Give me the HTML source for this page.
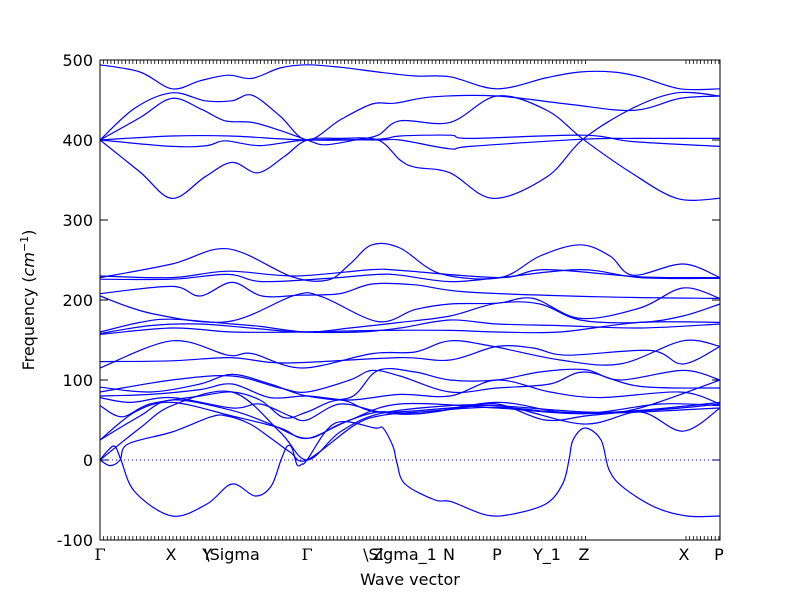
<!DOCTYPE html>
<html><head><meta charset="utf-8"><style>
body{margin:0;background:#fff;}
svg{display:block;font-family:"DejaVu Sans","Liberation Sans",sans-serif;}
</style></head><body>
<svg id="chart" width="800" height="600" viewBox="0 0 800 600" xmlns="http://www.w3.org/2000/svg">
<rect x="0" y="0" width="800" height="600" fill="#fff"/>
<g id="ticks"></g>
<g id="bands"></g>
<rect x="100" y="60" width="620" height="480" fill="none" stroke="#000" stroke-width="1"/>
<g id="labels"></g>
<text x="410" y="585" font-size="16" text-anchor="middle">Wave vector</text>
<text transform="translate(34,300) rotate(-90)" font-size="16" text-anchor="middle">Frequency (<tspan font-style="italic">cm</tspan><tspan font-size="11" dy="-6">−1</tspan><tspan dy="6">)</tspan></text>
</svg>
<script>
// path distance (0..620 units) of high-symmetry points
const symLabels = ["Γ","X","Y","\\Sigma","Γ","Z","\\Sigma_1","N","P","Y_1","Z","X","P"];
const symPos = [0,71,107,132,207,278,300,349,397,447,484,584,619];
const yTicks = [-100,0,100,200,300,400,500];
// each band: [k, frequency] samples
const band01=[[0,494],[40,485],[72,464],[100,474],[128,481],[152,477],[180,490],[207,494],[240,491],[278,485],[315,480],[350,479],[397,464],[447,478],[480,485],[513,485],[540,479],[580,464],[620,464]];
const band02=[[0,400],[35,440],[72,459],[105,449],[132,449],[152,456],[180,430],[207,400],[240,425],[272,445],[295,446],[333,454],[397,455],[467,445],[533,437],[580,452],[620,455]];
const band03=[[0,400],[40,428],[72,452],[102,438],[125,424],[152,422],[180,412],[207,400],[225,394],[255,400],[278,406],[300,424],[350,422],[397,455],[447,437],[483,401],[530,360],[577,327],[620,327]];
const band04=[[0,400],[40,360],[72,327],[105,354],[132,372],[158,359],[185,380],[207,400],[240,402],[278,400],[300,375],[315,366],[350,359],[393,327],[447,354],[483,401],[533,440],[577,459],[620,455]];
const band05=[[0,400],[72,405],[130,405],[207,400],[278,401],[300,405],[350,406],[370,402],[483,406],[533,398],[620,392]];
const band06=[[0,400],[72,392],[107,393],[125,399],[160,393],[207,400],[278,400],[300,400],[350,389],[370,392],[483,401],[533,402],[620,402]];
const band07=[[0,228],[72,245],[128,264],[192,229],[228,225],[250,245],[272,269],[300,265],[340,233],[400,228],[440,255],[480,269],[510,255],[533,231],[583,245],[620,228]];
const band08=[[0,230],[72,228],[128,236],[195,230],[272,238],[300,237],[400,228],[445,238],[540,229],[620,228]];
const band09=[[0,226],[72,226],[128,232],[162,223],[228,227],[278,232],[300,231],[350,223],[400,228],[480,238],[540,228],[620,227]];
const band10=[[0,208],[72,217],[100,205],[132,222],[162,205],[200,206],[240,208],[272,220],[315,219],[367,210],[500,204],[620,202]];
const band11=[[0,205],[52,183],[128,173],[195,206],[222,204],[278,173],[315,188],[350,195],[397,196],[433,202],[480,177],[540,190],[583,215],[620,202]];
const band12=[[0,160],[40,172],[72,176],[132,170],[160,167],[207,160],[250,165],[300,172],[350,180],[397,196],[440,195],[480,175],[540,172],[583,180],[620,195]];
const band13=[[0,158],[50,168],[100,170],[150,165],[200,160],[260,160],[300,165],[350,175],[397,170],[460,168],[540,165],[620,170]];
const band14=[[0,157],[72,165],[132,160],[200,160],[278,162],[350,162],[397,160],[460,160],[540,172],[620,172]];
const band15=[[0,115],[72,149],[128,131],[152,133],[202,115],[272,133],[315,135],[350,149],[393,142],[460,125],[520,120],[583,149],[620,142]];
const band16=[[0,123],[72,124],[130,128],[170,122],[207,122],[300,128],[350,125],[397,142],[433,140],[467,131],[550,137],[583,120],[620,142]];
const band17=[[0,91],[50,85],[100,95],[132,107],[170,95],[207,80],[250,78],[278,112],[315,110],[350,100],[397,100],[440,110],[485,113],[520,100],[583,112],[620,100]];
const band18=[[0,85],[72,100],[132,105],[180,90],[207,85],[250,100],[272,112],[300,105],[350,85],[397,90],[450,95],[485,110],[540,92],[620,90]];
const band19=[[0,80],[50,82],[100,88],[132,95],[170,78],[207,80],[250,75],[300,82],[350,80],[397,100],[450,85],[500,78],[580,85],[620,70]];
const band20=[[0,78],[30,72],[72,78],[132,65],[160,70],[190,55],[207,50],[240,70],[280,60],[320,58],[397,72],[460,60],[520,60],[580,65],[620,70]];
const band21=[[0,68],[22,54],[50,70],[100,80],[132,85],[160,75],[184,53],[207,60],[240,75],[278,60],[350,65],[397,70],[445,50],[485,55],[540,65],[620,100]];
const band22=[[0,25],[40,55],[72,75],[132,62],[170,45],[207,27],[240,45],[278,60],[320,58],[397,68],[483,45],[540,60],[583,36],[620,65]];
const band23=[[0,25],[35,60],[72,72],[132,55],[180,40],[207,27],[250,50],[300,70],[397,65],[483,58],[560,70],[620,68]];
const band24=[[0,0],[40,40],[72,68],[132,85],[180,35],[207,0],[240,35],[280,58],[350,68],[397,68],[485,60],[540,62],[620,72]];
const band25=[[0,0],[10,-7],[20,0],[28,20],[72,35],[111,54],[127,55],[150,45],[170,28],[190,10],[207,0],[255,44],[283,56],[320,60],[397,66],[485,58],[620,65]];
const band26=[[0,0],[8,12],[15,17],[21,0],[35,-40],[72,-70],[107,-55],[132,-30],[155,-45],[171,-33],[181,0],[187,17],[192,15],[197,-6],[202,-5],[207,0],[235,46],[275,40],[283,40],[293,17],[297,-4],[305,-30],[335,-50],[351,-52],[387,-69],[415,-67],[447,-54],[463,-29],[469,0],[473,25],[485,40],[501,25],[509,-12],[523,-34],[555,-59],[587,-70],[620,-70]];
const bands=[band01,band02,band03,band04,band05,band06,band07,band08,band09,band10,band11,band12,band13,band14,band15,band16,band17,band18,band19,band20,band21,band22,band23,band24,band25,band26];

const NS="http://www.w3.org/2000/svg";
const X0=100,X1=720,Y0=540,Y1=60,KMAX=620,FMIN=-100,FMAX=500;
function xs(k){return X0+(k/KMAX)*(X1-X0);}
function ys(f){return Y0-(f-FMIN)/(FMAX-FMIN)*(Y0-Y1);}
function pathFor(pts){
  const p=pts.map(d=>[xs(d[0]),ys(d[1])]);
  let s="M"+p[0][0].toFixed(2)+","+p[0][1].toFixed(2);
  for(let i=0;i<p.length-1;i++){
    const a=p[i-1]||p[i],b=p[i],c=p[i+1],d=p[i+2]||c;
    const c1x=b[0]+(c[0]-a[0])/6,c1y=b[1]+(c[1]-a[1])/6;
    const c2x=c[0]-(d[0]-b[0])/6,c2y=c[1]-(d[1]-b[1])/6;
    s+=" C"+c1x.toFixed(2)+","+c1y.toFixed(2)+" "+c2x.toFixed(2)+","+c2y.toFixed(2)+" "+c[0].toFixed(2)+","+c[1].toFixed(2);
  }
  return s;
}
const gB=document.getElementById("bands");
const zl=document.createElementNS(NS,"line");


zl.setAttribute("x1",X0);zl.setAttribute("x2",X1);zl.setAttribute("y1",ys(0));zl.setAttribute("y2",ys(0));
zl.setAttribute("stroke","#0000ff");zl.setAttribute("stroke-dasharray","1,3");zl.setAttribute("stroke-width","1");
gB.appendChild(zl);
bands.forEach((b,i)=>{
  const el=document.createElementNS(NS,"path");
  
  
  el.setAttribute("d",pathFor(b));
  el.setAttribute("fill","none");el.setAttribute("stroke","#0000ff");el.setAttribute("stroke-width","1.2");
  gB.appendChild(el);
});
const gT=document.getElementById("ticks"),gL=document.getElementById("labels");
yTicks.forEach(v=>{
  [[X0,X0+8],[X1,X1-8]].forEach(([a,b])=>{
    const t=document.createElementNS(NS,"line");
    
    
    t.setAttribute("x1",a);t.setAttribute("x2",b);t.setAttribute("y1",ys(v));t.setAttribute("y2",ys(v));t.setAttribute("stroke","#000");
    gT.appendChild(t);
  });
  const tx=document.createElementNS(NS,"text");
  
  
  tx.setAttribute("x",93);tx.setAttribute("y",ys(v)+6);tx.setAttribute("text-anchor","end");tx.setAttribute("font-size","16");
  tx.textContent=String(v);gL.appendChild(tx);
});
// minor ticks (q-points)
for(let x=X0;x<=588;x+=3.65){
  [[Y0,Y0-4],[Y1,Y1+4]].forEach(([a,b])=>{
    const t=document.createElementNS(NS,"line");
    
    
    t.setAttribute("x1",x);t.setAttribute("x2",x);t.setAttribute("y1",a);t.setAttribute("y2",b);t.setAttribute("stroke","#000");t.setAttribute("stroke-width","0.8");
    gT.appendChild(t);
  });
}
for(let x=686;x<=720;x+=3.65){
  [[Y0,Y0-4],[Y1,Y1+4]].forEach(([a,b])=>{
    const t=document.createElementNS(NS,"line");
    
    
    t.setAttribute("x1",x);t.setAttribute("x2",x);t.setAttribute("y1",a);t.setAttribute("y2",b);t.setAttribute("stroke","#000");t.setAttribute("stroke-width","0.8");
    gT.appendChild(t);
  });
}
symLabels.forEach((l,i)=>{
  const tx=document.createElementNS(NS,"text");
  
  
  tx.setAttribute("x",xs(symPos[i]));tx.setAttribute("y",560);tx.setAttribute("text-anchor","middle");tx.setAttribute("font-size","16");
  if(l==="Γ"){tx.setAttribute("font-family","DejaVu Serif, Liberation Serif, serif");}
  tx.textContent=l;gL.appendChild(tx);
});
</script>
</body></html>
